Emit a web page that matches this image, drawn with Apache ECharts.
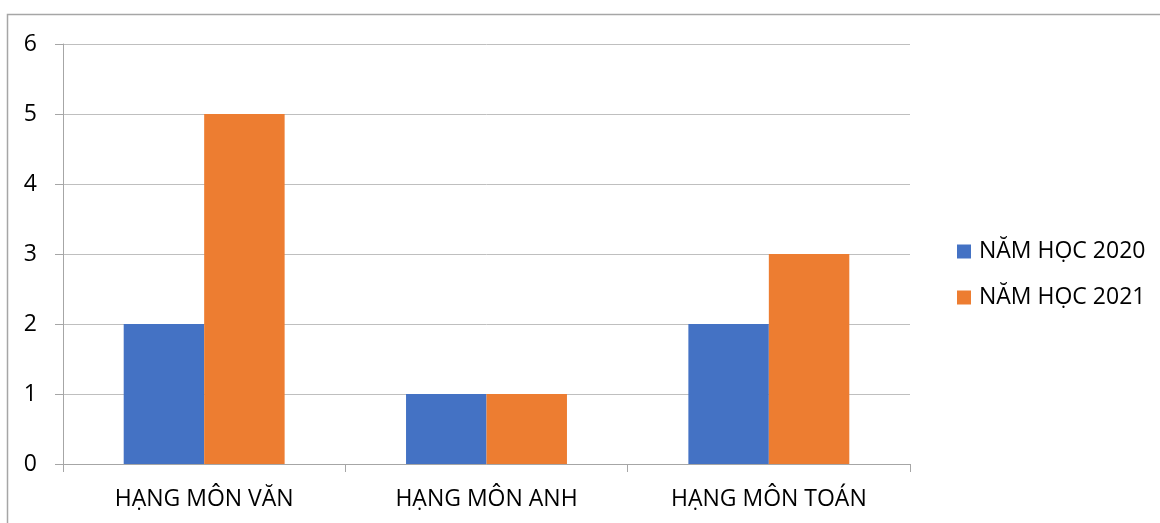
<!DOCTYPE html>
<html><head><meta charset="utf-8">
<script src="https://cdn.jsdelivr.net/npm/echarts@6/dist/echarts.min.js"></script>
<style>html,body{margin:0;padding:0;background:#fff}#c{width:1160px;height:523px}</style>
</head><body><div id="c"></div>
<script>
const categories = ['HẠNG MÔN VĂN', 'HẠNG MÔN ANH', 'HẠNG MÔN TOÁN'];
const series2020 = [2, 1, 2];
const series2021 = [5, 1, 3];
const seriesNames = ['NĂM HỌC 2020', 'NĂM HỌC 2021'];
const FONT = 'Open Sans';
const FS = 23;
const chart = echarts.init(document.getElementById('c'));
chart.setOption({
  animation: false,
  textStyle: { fontFamily: FONT },
  graphic: [{
    type: 'rect', shape: { x: 7.5, y: 14.5, width: 1200, height: 600 },
    style: { fill: 'none', stroke: '#a6a6a6', lineWidth: 1.5 }, silent: true
  }],
  grid: { left: 63, right: 250, top: 44, bottom: 59, containLabel: false },
  legend: {
    orient: 'vertical', left: 952, top: 235, itemWidth: 14, itemHeight: 14, itemGap: 23,
    icon: 'rect', textStyle: { fontFamily: FONT, fontSize: FS, color: '#000', padding: [0, 0, 0, 3] },
    data: seriesNames
  },
  xAxis: {
    type: 'category', data: categories,
    axisLine: { lineStyle: { color: '#a6a6a6', width: 1 } },
    axisTick: { show: true, length: 8, lineStyle: { color: '#a6a6a6' } },
    axisLabel: { fontFamily: FONT, fontSize: FS, color: '#000', margin: 24 }
  },
  yAxis: {
    type: 'value', min: 0, max: 6, interval: 1,
    axisLine: { show: true, lineStyle: { color: '#a6a6a6' } },
    axisTick: { show: true, length: 8, lineStyle: { color: '#a6a6a6' } },
    splitLine: { lineStyle: { color: '#bfbfbf' } },
    axisLabel: { fontFamily: FONT, fontSize: FS, color: '#000', margin: 26 }
  },
  series: [
    { name: seriesNames[0], type: 'bar', data: series2020, itemStyle: { color: '#4472C4' }, barGap: '0%', barCategoryGap: '43%' },
    { name: seriesNames[1], type: 'bar', data: series2021, itemStyle: { color: '#ED7D31' }, barGap: '0%', barCategoryGap: '43%' }
  ]
});
</script></body></html>
